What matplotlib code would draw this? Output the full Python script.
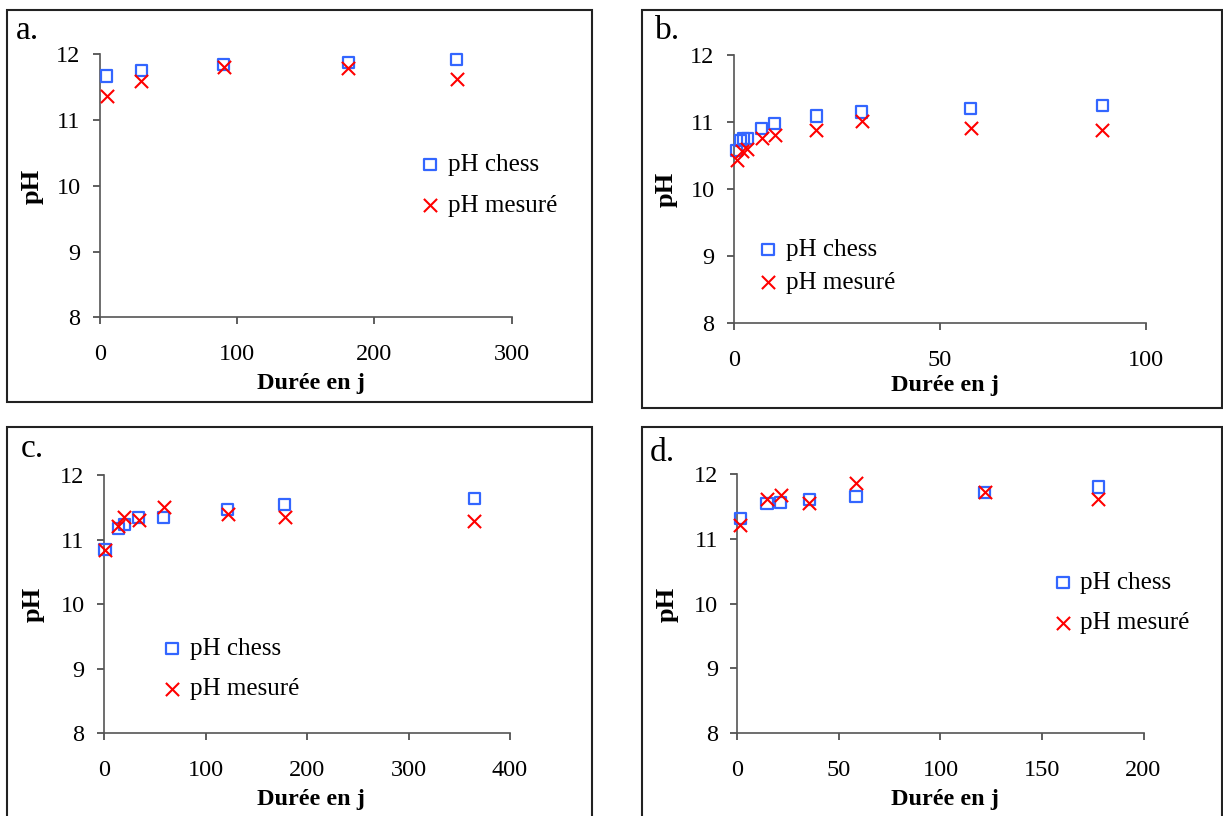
import matplotlib
matplotlib.use("Agg")
import matplotlib.pyplot as plt
from matplotlib.patches import Rectangle

plt.rcParams['font.family'] = ['Liberation Serif', 'DejaVu Serif']

# Données
a_jours = [5, 30, 90, 181, 260]
a_chess = [11.67, 11.76, 11.84, 11.87, 11.92]
a_mesure = [11.36, 11.59, 11.80, 11.79, 11.62]

b_jours_chess = [0.6, 1.5, 2.4, 3.2, 6.6, 9.8, 20, 31, 57.5, 89.5]
b_chess = [10.57, 10.73, 10.75, 10.76, 10.90, 10.98, 11.09, 11.15, 11.20, 11.25]
b_jours_mesure = [0.8, 1.9, 3.1, 6.7, 10, 20, 31, 57.5, 89.5]
b_mesure = [10.43, 10.57, 10.60, 10.77, 10.80, 10.88, 11.01, 10.91, 10.88]

c_jours = [1, 14, 20, 34, 59, 122, 178, 365]
c_chess = [10.84, 11.17, 11.24, 11.34, 11.34, 11.47, 11.55, 11.64]
c_mesure = [10.84, 11.21, 11.35, 11.30, 11.50, 11.39, 11.35, 11.28]

d_jours = [1.5, 14.6, 21.3, 35.4, 58.4, 121.9, 177.7]
d_chess = [11.31, 11.55, 11.56, 11.60, 11.65, 11.72, 11.80]
d_mesure = [11.22, 11.61, 11.68, 11.56, 11.86, 11.73, 11.62]

W, H = 1223, 816
fig = plt.figure(figsize=(W / 100, H / 100), dpi=100)


def px_rect(x0, y0, x1, y1):
    # pixels (haut-gauche) -> fraction de figure
    return [x0 / W, 1 - y1 / H, (x1 - x0) / W, (y1 - y0) / H]


panneaux = [
    dict(lettre="a.", ax=(100, 54.3, 511.7, 317.3), cadre=(7, 10, 592, 402),
         xmax=300, xticks=[0, 100, 200, 300],
         x_chess=a_jours, chess=a_chess, x_mes=a_jours, mes=a_mesure,
         leg=(420, 185), legsp=0.75, lettre_pos=(16, 39),
         ylab=(32, 186), xlab=(311, 383)),
    dict(lettre="b.", ax=(734, 55, 1145.7, 323.3), cadre=(642, 10, 1222, 408),
         xmax=100, xticks=[0, 50, 100],
         x_chess=b_jours_chess, chess=b_chess, x_mes=b_jours_mesure, mes=b_mesure,
         leg=(758, 266), legsp=0.42, lettre_pos=(655, 39),
         ylab=(666, 189), xlab=(945, 386)),
    dict(lettre="c.", ax=(104, 475, 510, 733.3), cadre=(7, 427, 592, 822),
         xmax=400, xticks=[0, 100, 200, 300, 400],
         x_chess=c_jours, chess=c_chess, x_mes=c_jours, mes=c_mesure,
         leg=(162, 669), legsp=0.7, lettre_pos=(21, 457),
         ylab=(33, 604), xlab=(311, 800)),
    dict(lettre="d.", ax=(737.4, 474, 1143.5, 733.3), cadre=(642, 427, 1222, 822),
         xmax=200, xticks=[0, 50, 100, 150, 200],
         x_chess=d_jours, chess=d_chess, x_mes=d_jours, mes=d_mesure,
         leg=(1053, 603), legsp=0.7, lettre_pos=(650, 461),
         ylab=(667, 604), xlab=(945, 800)),
]

for p in panneaux:
    fig.patches.append(Rectangle(
        (p["cadre"][0] / W, 1 - p["cadre"][3] / H),
        (p["cadre"][2] - p["cadre"][0]) / W, (p["cadre"][3] - p["cadre"][1]) / H,
        transform=fig.transFigure, fill=False, edgecolor="#222222", lw=1.5))

    ax = fig.add_axes(px_rect(*p["ax"]))
    ax.scatter(p["x_chess"], p["chess"], marker="s", s=64, facecolors="none",
               edgecolors="#3366ff", linewidths=1.6, label="pH chess",
               clip_on=False, zorder=3)
    ax.scatter(p["x_mes"], p["mes"], marker="x", s=90, color="#ff0000",
               linewidths=1.5, label="pH mesuré", clip_on=False, zorder=4)

    ax.set_xlim(0, p["xmax"])
    ax.set_ylim(8, 12)
    ax.set_xticks(p["xticks"])
    ax.set_yticks([8, 9, 10, 11, 12])
    for s in ["top", "right"]:
        ax.spines[s].set_visible(False)
    for s in ["left", "bottom"]:
        ax.spines[s].set_color("#555555")
        ax.spines[s].set_linewidth(1.2)
    ax.tick_params(axis="both", direction="out", length=5, width=1.1,
                   color="#333333", labelsize=17.5)
    ax.tick_params(axis="y", pad=9)
    ax.tick_params(axis="x", pad=14)

    fig.text(p["ylab"][0] / W, 1 - p["ylab"][1] / H, "pH", rotation=90,
             ha="center", va="center", fontsize=19, fontweight="bold")
    fig.text(p["xlab"][0] / W, 1 - p["xlab"][1] / H, "Durée en j",
             ha="center", va="center", fontsize=17.5, fontweight="bold")
    fig.text(p["lettre_pos"][0] / W, 1 - p["lettre_pos"][1] / H, p["lettre"],
             ha="left", va="baseline", fontsize=24)

    ax.legend(loc="center left",
              bbox_to_anchor=(p["leg"][0] / W, 1 - p["leg"][1] / H),
              bbox_transform=fig.transFigure, frameon=False, fontsize=18,
              handlelength=0.8, handletextpad=0.3, borderpad=0,
              borderaxespad=0, labelspacing=p["legsp"], scatterpoints=1)

fig.savefig("out.png", dpi=100)
